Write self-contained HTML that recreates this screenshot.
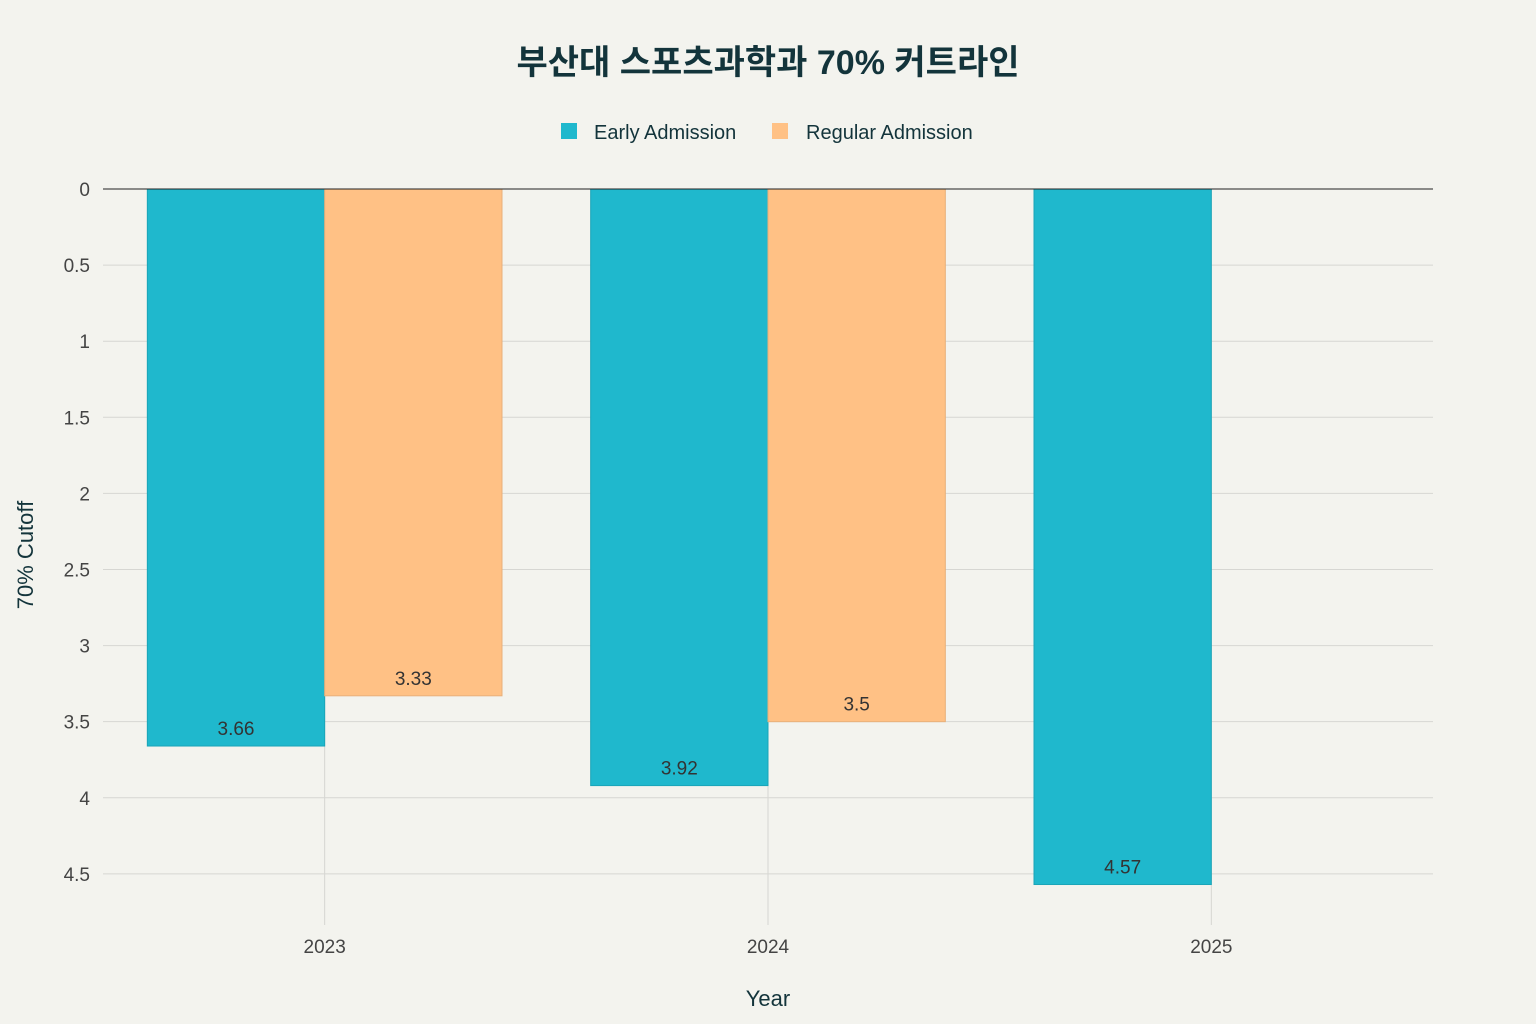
<!DOCTYPE html>
<html><head><meta charset="utf-8"><style>
html,body{margin:0;padding:0;background:#f3f3ee;}
svg{display:block;font-family:"Liberation Sans","Noto Sans CJK KR",sans-serif;}
</style></head><body>
<svg id="chart" width="1536" height="1024" viewBox="0 0 1536 1024">
<rect width="1536" height="1024" fill="#f3f3ee"/>
<text x="768" y="74" text-anchor="middle" font-size="34" font-weight="bold" fill="#13343b">부산대 스포츠과학과 70% 커트라인</text>
<g>
<g><rect x="561" y="123" width="16" height="16" fill="#1fb8cd"/><text x="594" y="139" font-size="20" fill="#13343b">Early Admission</text></g>
<g><rect x="772" y="123" width="16" height="16" fill="#ffc185"/><text x="806" y="139" font-size="20" fill="#13343b">Regular Admission</text></g>
</g>
<g id="grid"></g>
<g id="bars"></g>
<g id="labels"></g>
<line x1="103" x2="1433" y1="189" y2="189" stroke="#222" stroke-width="1"/>
<text x="768" y="1006" text-anchor="middle" font-size="22" fill="#13343b">Year</text>
<text transform="translate(33,555) rotate(-90)" text-anchor="middle" font-size="22" fill="#13343b">70% Cutoff</text>
</svg>
<script>
const categories = ["2023", "2024", "2025"];
const earlyValues = [3.66, 3.92, 4.57];
const regularValues = [3.33, 3.5, null];
const yTicks = [0, 0.5, 1, 1.5, 2, 2.5, 3, 3.5, 4, 4.5];
const yTickLabels = ["0", "0.5", "1", "1.5", "2", "2.5", "3", "3.5", "4", "4.5"];

const NS = "http://www.w3.org/2000/svg";
const plotL = 103, plotR = 1433, plotT = 189, plotB = 925;
const yMax = 4.836;
const y = v => plotT + v / yMax * (plotB - plotT);
const band = (plotR - plotL) / categories.length;
const xc = i => plotL + band * (i + 0.5);
const barW = band * 0.4;
function mk(tag, attrs, parent) { const e = document.createElementNS(NS, tag); for (const k in attrs) e.setAttribute(k, attrs[k]); parent.appendChild(e); return e; }
const grid = document.getElementById("grid"), bars = document.getElementById("bars"), labels = document.getElementById("labels");
yTicks.forEach((t, i) => {
  if (t !== 0) {
    const l = mk("line", {x1: plotL, x2: plotR, y1: y(t), y2: y(t), stroke: "#d6d6d2", "stroke-width": 1}, grid);
    
    
  }
  const tx = mk("text", {x: 90, y: y(t) + 7, "text-anchor": "end", "font-size": 19, fill: "#444"}, grid);
  tx.textContent = yTickLabels[i];
  
  
});
categories.forEach((c, i) => {
  const l = mk("line", {x1: xc(i), x2: xc(i), y1: plotT, y2: plotB, stroke: "#d6d6d2", "stroke-width": 1}, grid);
  
  
  const tx = mk("text", {x: xc(i), y: 953, "text-anchor": "middle", "font-size": 19, fill: "#444"}, grid);
  tx.textContent = c;
  
  
});
function drawBar(v, x0, fill, stroke, name) {
  if (v == null) return;
  const r = mk("rect", {x: x0, y: y(0), width: barW, height: y(v) - y(0), fill: fill, stroke: stroke, "stroke-width": 1}, bars);
  
  
  const t = mk("text", {x: x0 + barW / 2, y: y(v) - 11, "text-anchor": "middle", "font-size": 19, fill: "#333"}, labels);
  t.textContent = String(v);
  
  
}
categories.forEach((c, i) => {
  drawBar(earlyValues[i], xc(i) - barW, "#1fb8cd", "#1aa5b8", "bar-early-" + c);
  drawBar(regularValues[i], xc(i), "#ffc185", "#e8b07a", "bar-regular-" + c);
});
</script>
</body></html>
